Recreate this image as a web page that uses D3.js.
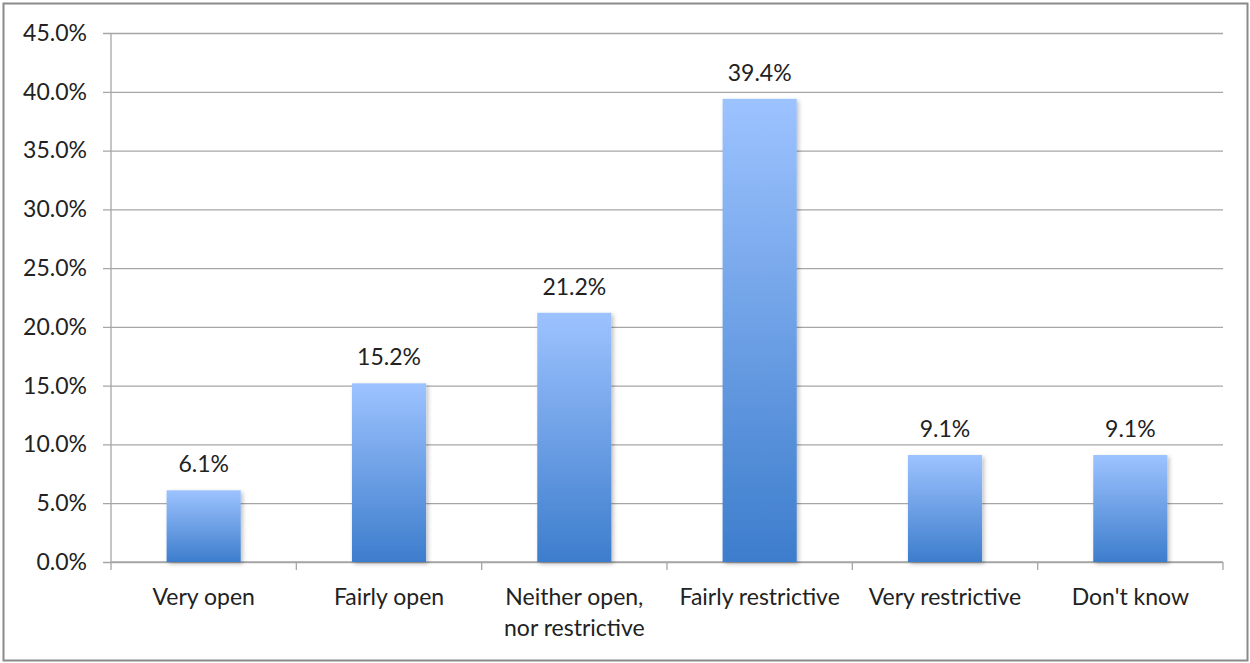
<!DOCTYPE html>
<html>
<head>
<meta charset="utf-8">
<script src="https://cdn.jsdelivr.net/npm/d3@7"></script>
<style>
  body { margin: 0; background: #fff; }
  text { font-family: Lato, "Open Sans", sans-serif; fill: #222; }
</style>
</head>
<body>
<div id="chart"></div>
<script>
var categories = ["Very open", "Fairly open", "Neither open,\nnor restrictive", "Fairly restrictive", "Very restrictive", "Don't know"];
var values = [6.1, 15.2, 21.2, 39.4, 9.1, 9.1];
var yTicks = [0, 5, 10, 15, 20, 25, 30, 35, 40, 45];

var width = 1250, height = 663;
var margin = { top: 33, right: 27, bottom: 101, left: 111 };

var svg = d3.select("#chart").append("svg")
  .attr("width", width)
  .attr("height", height);

var defs = svg.append("defs");
var grad = defs.append("linearGradient")
  .attr("id", "barGrad")
  .attr("x1", 0).attr("y1", 0).attr("x2", 0).attr("y2", 1);
grad.append("stop").attr("offset", "0%").attr("stop-color", "#9dc3ff");
grad.append("stop").attr("offset", "100%").attr("stop-color", "#3d7dcc");

var shadow = defs.append("filter").attr("id", "shadow")
  .attr("x", "-10%").attr("y", "-10%").attr("width", "130%").attr("height", "130%");
shadow.append("feDropShadow")
  .attr("dx", 2).attr("dy", 2).attr("stdDeviation", 2)
  .attr("flood-color", "#000").attr("flood-opacity", 0.25);

// outer frame
svg.append("rect")
  .attr("x", 3.5).attr("y", 3.5)
  .attr("width", width - 6).attr("height", height - 6)
  .attr("fill", "none").attr("stroke", "#8a8a8a").attr("stroke-width", 2);

var x = d3.scaleBand()
  .domain(categories)
  .range([margin.left, width - margin.right])
  .paddingInner(0.6).paddingOuter(0.3);

var y = d3.scaleLinear()
  .domain([0, 45])
  .range([height - margin.bottom, margin.top]);

// gridlines + y axis
var yAxis = svg.append("g")
  .attr("transform", "translate(" + margin.left + ",0)")
  .call(d3.axisLeft(y)
    .tickValues(yTicks)
    .tickSize(-(width - margin.right - margin.left))
    .tickPadding(24)
    .tickFormat(function (d) { return d.toFixed(1) + "%"; }));
yAxis.select(".domain").remove();
yAxis.selectAll(".tick line")
  .attr("x1", -8)
  .attr("stroke", "#a6a6a6").attr("stroke-width", 1.3);
yAxis.selectAll(".tick text")
  .style("font-size", "23px").attr("fill", "#222");

svg.append("line")
  .attr("x1", margin.left).attr("x2", margin.left)
  .attr("y1", margin.top).attr("y2", height - margin.bottom)
  .attr("stroke", "#a6a6a6").attr("stroke-width", 1.3);

// x axis
var xAxis = svg.append("g")
  .attr("transform", "translate(0," + (height - margin.bottom) + ")");
xAxis.append("line")
  .attr("x1", margin.left).attr("x2", width - margin.right)
  .attr("stroke", "#a6a6a6").attr("stroke-width", 1.3);
var bounds = d3.range(categories.length + 1).map(function (i) {
  return margin.left + i * (width - margin.right - margin.left) / categories.length;
});
xAxis.selectAll(".xt").data(bounds).enter().append("line")
  .attr("x1", function (d) { return d; }).attr("x2", function (d) { return d; })
  .attr("y1", 0).attr("y2", 8)
  .attr("stroke", "#a6a6a6").attr("stroke-width", 1.3);

var labels = xAxis.selectAll(".xl").data(categories).enter().append("text")
  .attr("text-anchor", "middle")
  .attr("transform", function (d) { return "translate(" + (x(d) + x.bandwidth() / 2) + ",43)"; })
  .style("font-size", "23px");
labels.selectAll("tspan")
  .data(function (d) { return d.split("\n"); })
  .enter().append("tspan")
  .attr("x", 0)
  .attr("dy", function (d, i) { return i === 0 ? 0 : 31; })
  .text(function (d) { return d; });

// bars
svg.selectAll(".bar").data(values).enter().append("rect")
  .attr("x", function (d, i) { return x(categories[i]); })
  .attr("y", function (d) { return y(d); })
  .attr("width", x.bandwidth())
  .attr("height", function (d) { return y(0) - y(d); })
  .attr("fill", "url(#barGrad)")
  .attr("filter", "url(#shadow)");

// value labels
svg.selectAll(".val").data(values).enter().append("text")
  .attr("x", function (d, i) { return x(categories[i]) + x.bandwidth() / 2; })
  .attr("y", function (d) { return y(d) - 18; })
  .attr("text-anchor", "middle")
  .style("font-size", "23px")
  .text(function (d) { return d.toFixed(1) + "%"; });
</script>
</body>
</html>
